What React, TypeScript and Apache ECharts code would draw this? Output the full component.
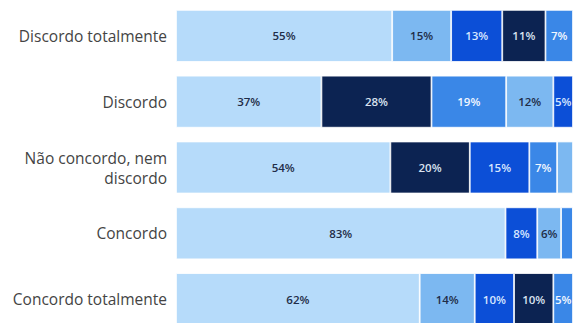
import React, { useEffect, useRef } from "react";
import * as echarts from "echarts";

const categories = [
  "Discordo totalmente",
  "Discordo",
  "Não concordo, nem\ndiscordo",
  "Concordo",
  "Concordo totalmente",
];

// five response groups (identified by colour in the reference)
const seriesNames = ["Grupo 1", "Grupo 2", "Grupo 3", "Grupo 4", "Grupo 5"];
const group1 = [55, 37, 54, 83, 62];
const group2 = [15, 12, 4, 6, 14];
const group3 = [13, 5, 15, 8, 10];
const group4 = [11, 28, 20, 0, 10];
const group5 = [7, 19, 7, 3, 5];
const seriesValues = [group1, group2, group3, group4, group5];

const colors = ["#b6dbfa", "#7cb8f1", "#0c4fd7", "#0c2352", "#3a87e7"];
const labelColors = ["#1f2d48", "#1f2d48", "#d6e6ff", "#d9e2f0", "#f2f7ff"];

export default function App() {
  const ref = useRef<HTMLDivElement>(null);
  useEffect(() => {
    if (!ref.current) return;
    const chart = echarts.init(ref.current, undefined, { renderer: "svg" });

    // Each row is sorted by value (largest first); build rank-based series
    const ranked = categories.map((_, r) => {
      const items = seriesValues.map((vals, s) => ({ s, v: vals[r] }));
      const total = items.reduce((a, b) => a + b.v, 0);
      const sorted = items.slice().sort((a, b) => b.v - a.v);
      return { sorted, total };
    });

    const series = seriesNames.map((_, k) => ({
      type: "bar",
      stack: "total",
      barCategoryGap: "21%",
      data: ranked.map(({ sorted, total }) => {
        const it = sorted[k];
        return {
          value: (it.v / total) * 100,
          itemStyle: { color: colors[it.s], borderColor: "#ffffff", borderWidth: 0.8 },
          label: {
            show: it.v >= 5,
            color: labelColors[it.s],
            formatter: it.v + "%",
          },
        };
      }),
      label: {
        position: "inside",
        fontSize: 11.5,
        fontWeight: 600,
        fontFamily: "Open Sans",
      },
    }));

    chart.setOption({
      animation: false,
      grid: { left: 176, right: 1, top: 3, height: 329, outerBoundsMode: "none", containLabel: false },
      xAxis: {
        type: "value",
        min: 0,
        max: 100,
        show: false,
      },
      yAxis: {
        type: "category",
        inverse: true,
        data: categories,
        axisLine: { show: false },
        axisTick: { show: false },
        axisLabel: {
          margin: 9,
          fontSize: 15.5,
          color: "#444444",
          fontFamily: "Open Sans",
          align: "right",
          lineHeight: 20,
        },
      },
      series,
    });
    return () => chart.dispose();
  }, []);
  return (
    <div
      ref={ref}
      style={{ position: "fixed", left: 0, top: 0, width: 574, height: 323, background: "#fff" }}
    />
  );
}
